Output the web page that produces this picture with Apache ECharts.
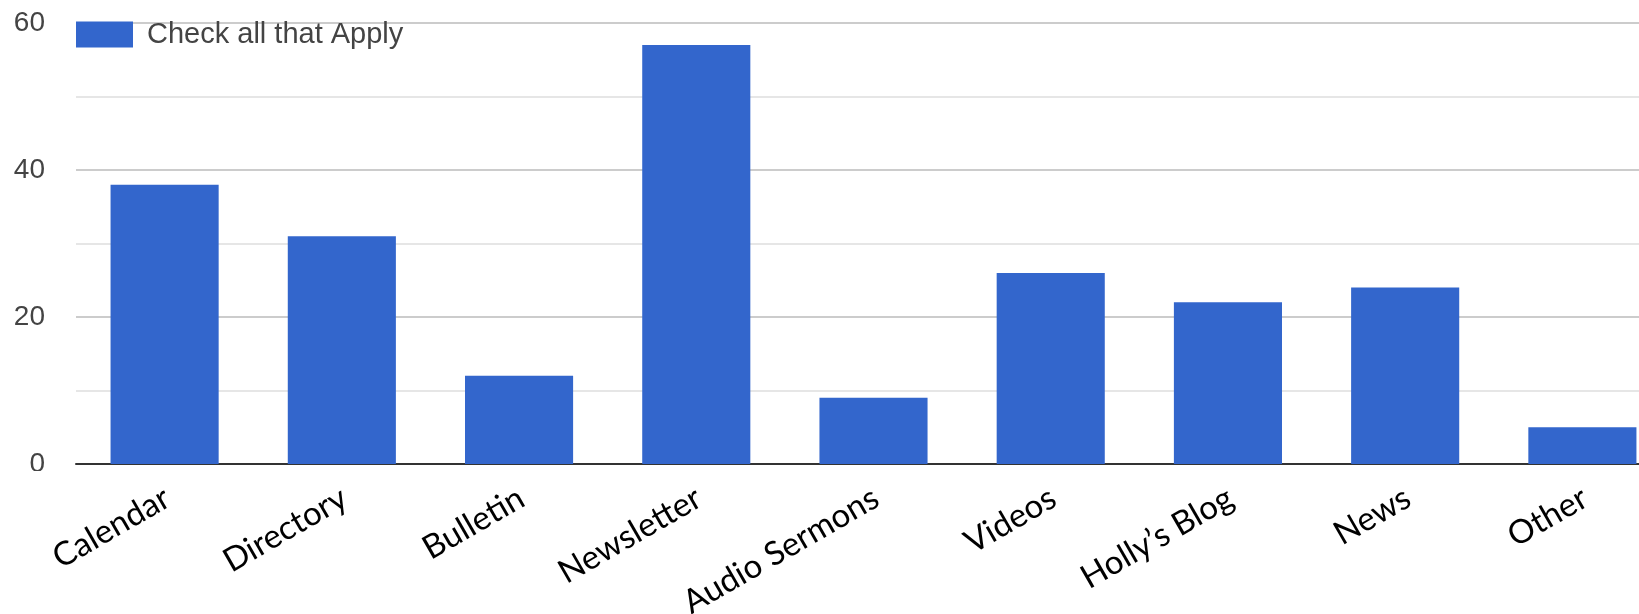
<!DOCTYPE html>
<html>
<head>
<meta charset="utf-8">
<script src="https://cdn.jsdelivr.net/npm/echarts@6/dist/echarts.min.js"></script>
<style>
html,body{margin:0;padding:0;background:#fff;}
#chart{width:1639px;height:614px;}
</style>
</head>
<body>
<div id="chart"></div>
<script>
const categories = ['Calendar', 'Directory', 'Bulletin', 'Newsletter', 'Audio Sermons', 'Videos', 'Holly\u2019s Blog', 'News', 'Other'];
const values = [38, 31, 12, 57, 9, 26, 22, 24, 5];
const seriesName = 'Check all that Apply';
const yTicks = [0, 20, 40, 60];

const chart = echarts.init(document.getElementById('chart'), null, {renderer: 'canvas'});
chart.setOption({
  animation: false,
  backgroundColor: '#ffffff',
  legend: {
    show: true,
    left: 76, top: 20,
    itemWidth: 57, itemHeight: 26,
    icon: 'rect',
    padding: 0,
    data: [seriesName],
    textStyle: {fontFamily: 'Liberation Sans, Arial, sans-serif', fontSize: 29, color: '#444', padding: [2,0,0,9]}
  },
  grid: {left: 76, width: 1595, top: 23, height: 441, containLabel: false, outerBoundsMode: 'none'},
  xAxis: {
    type: 'category',
    data: categories,
    axisLine: {show: true, lineStyle: {color: '#333', width: 2}},
    axisTick: {show: false},
    axisLabel: {
      rotate: 30, interval: 0, margin: 33,
      padding: [0, -3, 0, 0],
      fontFamily: 'Lato, sans-serif', fontSize: 33, color: '#000'
    }
  },
  yAxis: {
    type: 'value',
    min: yTicks[0], max: yTicks[yTicks.length-1], interval: 20,
    axisLine: {show: false}, axisTick: {show: false},
    axisLabel: {margin: 31, padding: [2,0,0,0], fontFamily: 'Liberation Sans, Arial, sans-serif', fontSize: 28, color: '#444'},
    splitLine: {show: true, lineStyle: {color: '#cccccc', width: 2}},
    minorTick: {show: false, splitNumber: 2},
    minorSplitLine: {show: true, lineStyle: {color: '#e6e6e6', width: 2}}
  },
  graphic: [{
    type: 'rect', left: 0, top: 471, z: 100,
    shape: {width: 60, height: 40},
    style: {fill: '#ffffff'}
  }],
  series: [{
    name: seriesName,
    type: 'bar',
    data: values,
    barWidth: '61%',
    itemStyle: {color: '#3366cc'}
  }]
});
</script>
</body>
</html>
